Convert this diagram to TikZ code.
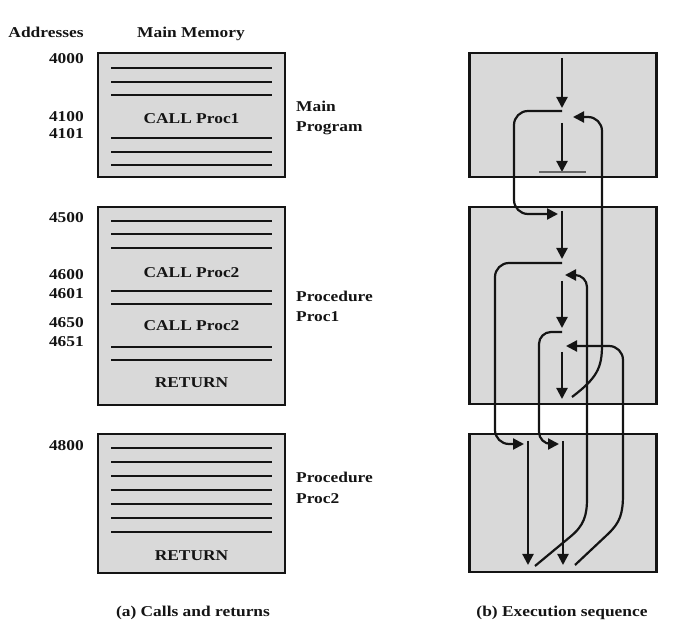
\documentclass[tikz,border=0pt]{standalone}
\usepackage{fontspec}
\setmainfont{Liberation Serif}[FakeStretch=1.16]
\usetikzlibrary{arrows.meta}
\definecolor{boxfill}{HTML}{D9D9D9}
\definecolor{ink}{HTML}{141414}
\begin{document}
\begin{tikzpicture}[x=1pt,y=-1pt,
  txt/.style={font=\bfseries\fontsize{15}{18}\selectfont, text=ink, inner sep=0pt, anchor=base},
  addr/.style={txt, anchor=base east},
  side/.style={txt, anchor=base west},
  membox/.style={draw=ink, fill=boxfill, line width=2.2pt, inner sep=0pt},
  rule/.style={draw=ink, line width=2.1pt},
  flow/.style={draw=ink, line width=2.2pt, -{Triangle[length=11pt,width=11pt]}},
]
\useasboundingbox (0,0) rectangle (689,636);

% ---------- (a) memory layout ----------
\node[txt] (hAddr) at (46,37.5) {Addresses};
\node[txt] (hMem) at (191,37.5) {Main Memory};

% main program
\node[membox, minimum width=187pt, minimum height=124pt] (mainbox) at (191.5,115) {};
\foreach \y in {68,82,95,138,152,165} \draw[rule] (111,\y) -- (272,\y);
\node[txt] (call1) at (191.5,124) {CALL Proc1};
\node[addr] (a4000) at (84,64) {4000};
\node[addr] (a4100) at (84,122) {4100};
\node[addr] (a4101) at (84,139) {4101};
\node[side] (lMain1) at (296,112) {Main};
\node[side] (lMain2) at (296,132) {Program};

% procedure Proc1
\node[membox, minimum width=187pt, minimum height=198pt] (p1box) at (191.5,306) {};
\foreach \y in {221,234,248,291,304,347,360} \draw[rule] (111,\y) -- (272,\y);
\node[txt] (call2a) at (191.5,278) {CALL Proc2};
\node[txt] (call2b) at (191.5,331) {CALL Proc2};
\node[txt] (ret1) at (191.5,388) {RETURN};
\node[addr] (a4500) at (84,223) {4500};
\node[addr] (a4600) at (84,280) {4600};
\node[addr] (a4601) at (84,299) {4601};
\node[addr] (a4650) at (84,328) {4650};
\node[addr] (a4651) at (84,347) {4651};
\node[side] (lP1a) at (296,302) {Procedure};
\node[side] (lP1b) at (296,322) {Proc1};

% procedure Proc2
\node[membox, minimum width=187pt, minimum height=139pt] (p2box) at (191.5,503.5) {};
\foreach \y in {448,462,476,490,504,518,532} \draw[rule] (111,\y) -- (272,\y);
\node[txt] (ret2) at (191.5,561) {RETURN};
\node[addr] (a4800) at (84,450.5) {4800};
\node[side] (lP2a) at (296,483) {Procedure};
\node[side] (lP2b) at (296,504) {Proc2};

\node[txt] (capA) at (193,616) {(a) Calls and returns};

% ---------- (b) execution sequence ----------
\node[membox, minimum width=187pt, minimum height=124pt] (eMain) at (563,115) {};
\node[membox, minimum width=187pt, minimum height=197pt] (eP1) at (563,305.5) {};
\node[membox, minimum width=187pt, minimum height=138pt] (eP2) at (563,503) {};

% main program
\draw[flow] (562,58) -- (562,108);
\draw[flow] (562,123) -- (562,172);
\draw[draw=gray!80!black, line width=1.5pt] (539,172) -- (586,172);
% call Proc1
\draw[flow, rounded corners=14pt] (562,111) -- (514,111) -- (514,214) -- (558,214);
% procedure Proc1
\draw[flow] (562,211) -- (562,259);
\draw[flow] (562,281) -- (562,328);
\draw[flow] (562,352) -- (562,399);
% first call Proc2
\draw[flow, rounded corners=14pt] (562,263) -- (495,263) -- (495,444) -- (524,444);
% second call Proc2
\draw[flow, rounded corners=12pt] (562,332) -- (539,332) -- (539,444) -- (559,444);
% procedure Proc2, run twice
\draw[flow] (528,441) -- (528,565);
\draw[flow] (563,441) -- (563,565);
% return to 4601
\draw[flow] (535,566) -- (570,537) .. controls (584,525.5) and (587,516) .. (587,498)
  [rounded corners=12pt] -- (587,275) -- (565,275);
% return to 4651
\draw[flow] (575,565) -- (608,534) .. controls (620,522.5) and (623,514) .. (623,494)
  [rounded corners=14pt] -- (623,346) -- (566,346);
% return to main program (4101)
\draw[flow] (572,397) .. controls (597,378) and (602,368) .. (602,345)
  [rounded corners=14pt] -- (602,117) -- (573,117);

\node[txt] (capB) at (562,616) {(b) Execution sequence};
\end{tikzpicture}
\end{document}
